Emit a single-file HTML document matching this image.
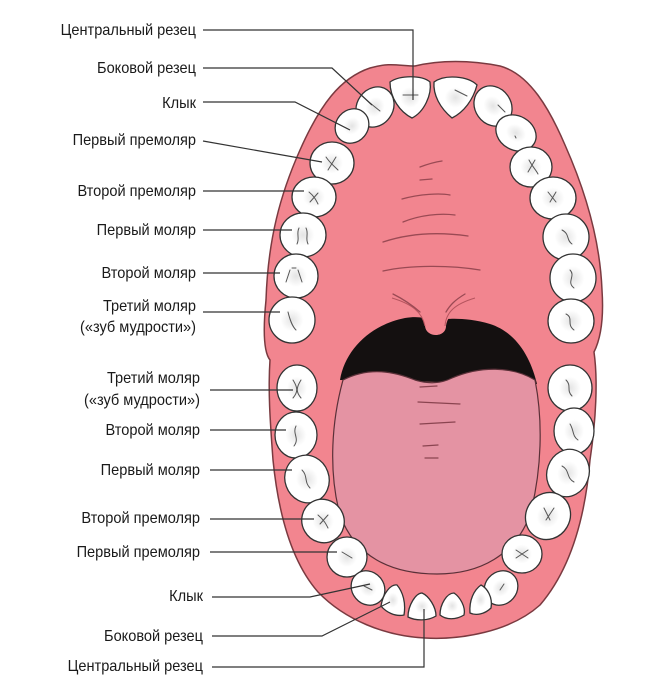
<!DOCTYPE html>
<html><head><meta charset="utf-8"><style>
html,body{margin:0;padding:0;background:#fff;}
svg{display:block;}
text{font-family:"Liberation Sans",sans-serif;font-size:15.5px;fill:#1a1a1a;}
</style></head><body>
<svg width="670" height="695" viewBox="0 0 670 695" xmlns="http://www.w3.org/2000/svg">
<defs>
<radialGradient id="tg" cx="50%" cy="50%" r="50%"><stop offset="0" stop-color="#e4e4e4"/><stop offset="0.5" stop-color="#fff"/><stop offset="1" stop-color="#fff"/></radialGradient>
</defs>
<!-- outer gum -->
<path d="M415,66 C440,60 470,60 500,66 C530,74 550,110 565,145 C585,190 600,240 602,290 C604,320 600,340 594,352 C598,380 596,420 590,460 C585,520 570,570 540,605 C510,632 460,640 425,638 C385,636 345,620 318,592 C290,560 278,510 273,460 C270,420 268,390 270,360 C262,350 264,320 266,300 C268,240 280,195 300,150 C320,105 340,78 370,68 C390,62 400,66 415,66 Z" fill="#f2858f" stroke="#7a3a40" stroke-width="1.5"/>
<!-- throat -->
<path d="M340,380 C345,350 370,325 405,318 C418,316 425,318 430,320 L430,326 C432,334 440,334 442,326 L442,320 C448,318 470,318 490,324 C515,332 530,355 537,384 Z" fill="#141010"/>
<!-- uvula -->
<path d="M405,308 C418,312 424,318 425,326 C426,338 446,338 446,326 C447,318 452,312 462,308 L462,300 L405,300 Z" fill="#f2858f"/>
<path d="M392,298 C412,304 422,312 425,326 M475,298 C455,304 446,312 445,326" fill="none" stroke="#b5545e" stroke-width="1"/>
<!-- tongue -->
<path d="M343,380 C370,366 395,372 415,380 C428,384 440,384 452,378 C480,366 512,366 535,380 C543,420 542,470 530,515 C515,555 480,574 437,574 C390,574 355,556 340,515 C328,470 332,420 343,380 Z" fill="#e493a3" stroke="#5a3038" stroke-width="1.2"/>
<g stroke="#8a4450" stroke-width="1.2" fill="none" stroke-linecap="round">
<path d="M420,387 L437,386"/><path d="M418,402 L460,404"/><path d="M420,424 L455,422"/><path d="M423,446 L438,445"/><path d="M425,458 L438,458"/>
</g>
<!-- palate ridges -->
<g stroke="#9a4a54" stroke-width="1.3" fill="none" stroke-linecap="round">
<path d="M420,167 C428,164 435,162 442,161"/><path d="M420,180 L432,179"/><path d="M402,199 C420,194 440,193 450,195"/><path d="M403,222 C420,215 440,213 455,215"/><path d="M383,242 C410,233 440,232 468,236"/><path d="M383,271 C410,265 450,265 480,270"/><path d="M393,294 C405,300 412,305 420,312"/><path d="M465,294 C455,300 450,305 446,312"/>
</g>
<!-- teeth -->
<g fill="url(#tg)" stroke="#333" stroke-width="1.3">
<path d="M390,82 C400,75 422,75 430,82 C432,95 424,112 412,118 C400,112 390,98 390,82 Z"/>
<path d="M434,82 C445,74 468,76 477,85 C473,100 464,112 452,118 C440,108 433,95 434,82 Z"/>
<ellipse cx="375" cy="107" rx="18" ry="21" transform="rotate(35 375 107)"/>
<ellipse cx="493" cy="106" rx="18" ry="21" transform="rotate(-35 493 106)"/>
<ellipse cx="352" cy="126" rx="16" ry="18" transform="rotate(40 352 126)"/>
<ellipse cx="516" cy="133" rx="21" ry="17" transform="rotate(30 516 133)"/>
<ellipse cx="332" cy="163" rx="22" ry="21"/>
<ellipse cx="531" cy="167" rx="21" ry="20"/>
<ellipse cx="314" cy="197" rx="22" ry="20"/>
<ellipse cx="553" cy="198" rx="23" ry="21"/>
<ellipse cx="303" cy="235" rx="23" ry="22"/>
<ellipse cx="566" cy="237" rx="23" ry="23"/>
<ellipse cx="296" cy="276" rx="22" ry="22"/>
<ellipse cx="573" cy="278" rx="23" ry="24"/>
<ellipse cx="292" cy="320" rx="23" ry="23"/>
<ellipse cx="571" cy="321" rx="23" ry="22"/>
<ellipse cx="297" cy="388" rx="20" ry="23"/>
<ellipse cx="570" cy="388" rx="22" ry="23"/>
<ellipse cx="296" cy="435" rx="21" ry="23"/>
<ellipse cx="574" cy="431" rx="20" ry="23"/>
<ellipse cx="307" cy="479" rx="22" ry="24" transform="rotate(-20 307 479)"/>
<ellipse cx="568" cy="473" rx="21" ry="24" transform="rotate(20 568 473)"/>
<ellipse cx="323" cy="521" rx="21" ry="22" transform="rotate(-30 323 521)"/>
<ellipse cx="548" cy="516" rx="22" ry="24" transform="rotate(30 548 516)"/>
<ellipse cx="347" cy="557" rx="20" ry="20"/>
<ellipse cx="522" cy="554" rx="20" ry="19"/>
<ellipse cx="368" cy="588" rx="16" ry="18" transform="rotate(-40 368 588)"/>
<ellipse cx="501" cy="588" rx="16" ry="18" transform="rotate(40 501 588)"/>
<path d="M381,606 C383,593 391,584 397,585 C403,592 406,603 404,615 C395,617 386,612 381,606 Z"/>
<path d="M470,613 C469,600 474,590 481,585 C487,588 493,597 491,608 C485,614 476,616 470,613 Z"/>
<path d="M408,617 C408,605 416,593 422,593 C429,596 436,607 436,616 C428,621 416,621 408,617 Z"/>
<path d="M440,615 C440,604 447,593 454,593 C460,597 466,607 464,615 C456,620 446,620 440,615 Z"/>
</g>
<!-- fissures -->
<g stroke="#555" stroke-width="1" fill="none" stroke-linecap="round">
<path d="M403,95 L418,95"/><path d="M455,90 L467,96"/><path d="M370,103 L380,111"/><path d="M498,105 L505,112"/><path d="M515,136 l1,2"/>
<path d="M326,157 C330,163 334,166 338,170 M336,157 L328,170"/><path d="M309,192 C314,196 316,200 318,204 M318,193 L310,202"/>
<path d="M299,228 C296,234 300,238 297,244 M306,228 C309,234 305,238 308,244"/><path d="M290,270 L286,282 M298,270 L302,282 M292,268 L296,268"/><path d="M288,312 C290,320 292,326 296,330"/>
<path d="M529,160 C532,166 536,170 538,174 M535,160 L528,172"/><path d="M548,192 L556,202 M556,192 L550,202"/><path d="M562,230 C570,234 566,240 572,244"/><path d="M570,270 C576,276 566,282 574,288"/><path d="M566,314 C574,318 566,324 574,330"/>
<path d="M293,380 C298,388 298,392 293,398 M301,380 C296,388 296,392 301,398"/><path d="M296,426 C292,434 300,438 294,446"/><path d="M302,470 C308,476 304,482 310,488"/><path d="M318,515 C324,520 326,524 328,528 M328,515 L320,524"/><path d="M342,552 L352,558"/><path d="M364,586 L372,590"/>
<path d="M566,380 C572,386 566,390 572,396"/><path d="M570,424 C574,430 572,436 578,440"/><path d="M562,466 C570,470 566,478 574,482"/><path d="M544,508 L550,520 M554,508 L546,520"/><path d="M516,550 L528,558 M528,550 L516,558"/><path d="M500,590 L504,584"/>
</g>
<!-- connector lines -->
<g stroke="#333" stroke-width="1.2" fill="none">
<polyline points="203,30 413,30 413,100"/>
<polyline points="203,68 332,68 372,105"/>
<polyline points="203,102 295,102 350,130"/>
<polyline points="203,141 322,162"/>
<polyline points="203,191 304,191"/>
<polyline points="203,230 292,230"/>
<polyline points="203,273 280,273"/>
<polyline points="203,312 280,312"/>
<polyline points="210,390 293,390"/>
<polyline points="210,430 286,430"/>
<polyline points="210,470 292,470"/>
<polyline points="210,519 314,519"/>
<polyline points="210,552 337,552"/>
<polyline points="212,597 310,597 370,584"/>
<polyline points="212,636 322,636 390,602"/>
<polyline points="212,667 424,667 424,609"/>
</g>
<!-- labels -->
<g text-anchor="end" transform="translate(196,0) scale(0.94,1) translate(-196,0)">
<text x="196" y="35">Центральный резец</text>
<text x="196" y="73">Боковой резец</text>
<text x="196" y="108">Клык</text>
<text x="196" y="145">Первый премоляр</text>
<text x="196" y="196">Второй премоляр</text>
<text x="196" y="235">Первый моляр</text>
<text x="196" y="278">Второй моляр</text>
<text x="196" y="311">Третий моляр</text>
<text x="196" y="332">(«зуб мудрости»)</text>
</g>
<g text-anchor="end" transform="translate(200,0) scale(0.94,1) translate(-200,0)">
<text x="200" y="383">Третий моляр</text>
<text x="200" y="405">(«зуб мудрости»)</text>
<text x="200" y="435">Второй моляр</text>
<text x="200" y="475">Первый моляр</text>
<text x="200" y="523">Второй премоляр</text>
<text x="200" y="557">Первый премоляр</text>
</g>
<g text-anchor="end" transform="translate(203,0) scale(0.94,1) translate(-203,0)">
<text x="203" y="601">Клык</text>
<text x="203" y="641">Боковой резец</text>
<text x="203" y="671">Центральный резец</text>
</g>
</svg>
</body></html>
